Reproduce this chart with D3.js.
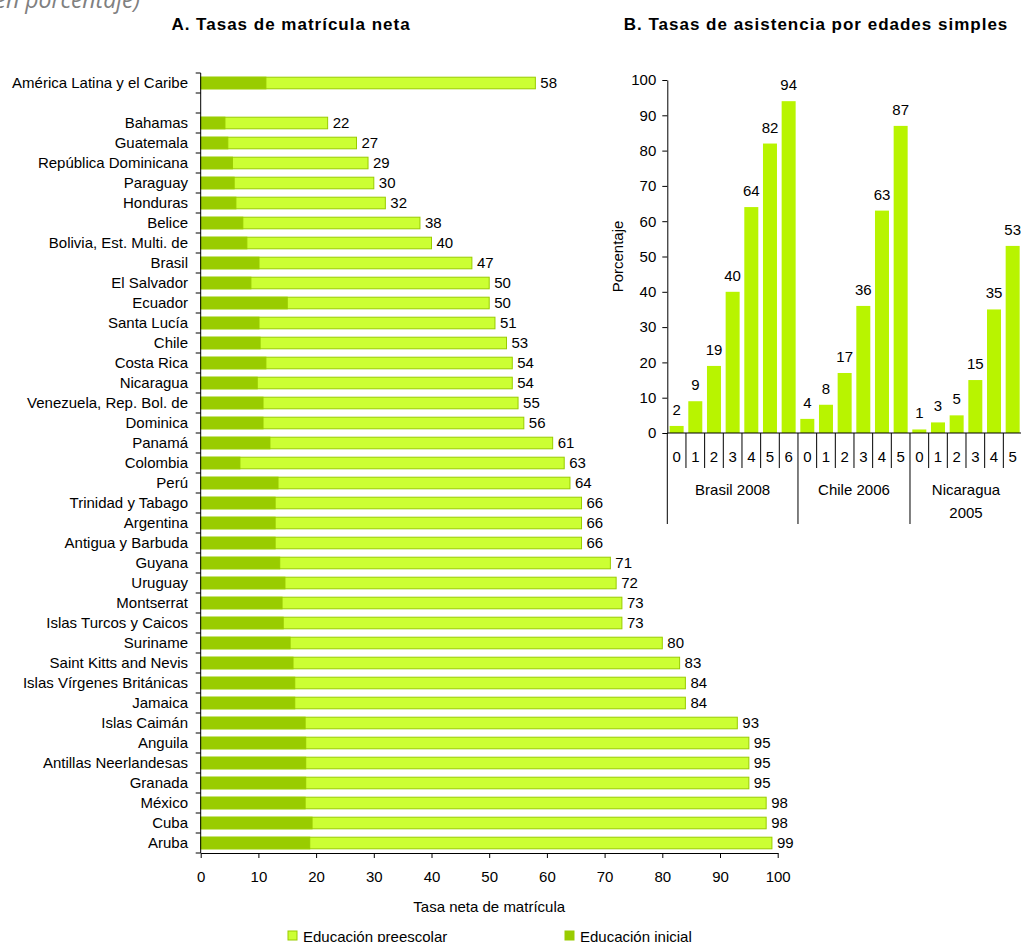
<!DOCTYPE html>
<html lang="es">
<head>
<meta charset="utf-8">
<script src="https://cdn.jsdelivr.net/npm/d3@7"></script>
<style>
  html, body { margin: 0; padding: 0; background: #fff; }
  svg { display: block; font-family: "Liberation Sans", Arial, sans-serif; }
</style>
</head>
<body>
<svg id="chart" width="1021" height="942"></svg>
<script>
// Panel A: net enrolment rates by country
const countries = [
  "América Latina y el Caribe", "",
  "Bahamas", "Guatemala", "República Dominicana", "Paraguay", "Honduras",
  "Belice", "Bolivia, Est. Multi. de", "Brasil", "El Salvador", "Ecuador",
  "Santa Lucía", "Chile", "Costa Rica", "Nicaragua", "Venezuela, Rep. Bol. de",
  "Dominica", "Panamá", "Colombia", "Perú", "Trinidad y Tabago", "Argentina",
  "Antigua y Barbuda", "Guyana", "Uruguay", "Montserrat", "Islas Turcos y Caicos",
  "Suriname", "Saint Kitts and Nevis", "Islas Vírgenes Británicas", "Jamaica",
  "Islas Caimán", "Anguila", "Antillas Neerlandesas", "Granada", "México",
  "Cuba", "Aruba"
];
// total net rate (label value)
const totalRate = [
  58, null,
  22, 27, 29, 30, 32, 38, 40, 47, 50, 50, 51, 53, 54, 54, 55, 56, 61, 63, 64,
  66, 66, 66, 71, 72, 73, 73, 80, 83, 84, 84, 93, 95, 95, 95, 98, 98, 99
];
// initial education share of the bar
const inicialRate = [
  11.3, null,
  4.2, 4.7, 5.5, 5.8, 6.1, 7.3, 8.0, 10.1, 8.7, 15.0, 10.1, 10.3, 11.3, 9.8,
  10.8, 10.8, 12.0, 6.8, 13.4, 12.9, 12.9, 12.9, 13.7, 14.6, 14.1, 14.3, 15.5,
  16.0, 16.3, 16.3, 18.1, 18.2, 18.2, 18.2, 18.1, 19.3, 18.9
];
const xTicksA = [0, 10, 20, 30, 40, 50, 60, 70, 80, 90, 100];

// Panel B: attendance by single age
const groups = ["Brasil 2008", "Chile 2006", "Nicaragua 2005"];
const ages = [
  ["0", "1", "2", "3", "4", "5", "6"],
  ["0", "1", "2", "3", "4", "5"],
  ["0", "1", "2", "3", "4", "5"]
];
const attendance = [
  [2, 9, 19, 40, 64, 82, 94],
  [4, 8, 17, 36, 63, 87],
  [1, 3, 5, 15, 35, 53]
];
const yTicksB = [0, 10, 20, 30, 40, 50, 60, 70, 80, 90, 100];

const svg = d3.select("#chart");
const FS = 15;

// ---------- header ----------
svg.append("text")
  .attr("x", 140).attr("y", 8)
  .attr("text-anchor", "end")
  .style("font-family", "'Open Sans', sans-serif")
  .style("font-style", "italic")
  .style("font-size", "23px")
  .attr("fill", "#808080")
  .text("(en porcentaje)");

svg.append("text")
  .attr("x", 291).attr("y", 30)
  .attr("text-anchor", "middle")
  .style("font-weight", "bold").style("font-size", "17px")
  .style("letter-spacing", "1px")
  .text("A. Tasas de matrícula neta");

svg.append("text")
  .attr("x", 816).attr("y", 30)
  .attr("text-anchor", "middle")
  .style("font-weight", "bold").style("font-size", "17px")
  .style("letter-spacing", "1px")
  .text("B. Tasas de asistencia por edades simples");

// ---------- panel A ----------
const slotKeys = countries.map((c, i) => i + "|" + c);
const x = d3.scaleLinear().domain([0, 100]).range([200.7, 777.7]);
const y = d3.scaleBand().domain(slotKeys).range([73, 853])
  .paddingInner(0.42).paddingOuter(0.21);

const gA = svg.append("g");
const rows = countries.map((c, i) => ({
  key: slotKeys[i], name: c, total: totalRate[i], inicial: inicialRate[i]
})).filter(d => d.total != null);

// full bar (pre-school part shown in light green)
gA.selectAll("rect.pre").data(rows).join("rect")
  .attr("class", "pre")
  .attr("x", x(0))
  .attr("y", d => y(d.key))
  .attr("width", d => x(d.total) - x(0))
  .attr("height", y.bandwidth())
  .attr("fill", "#ccff33")
  .attr("stroke", "#99cc00").attr("stroke-width", 1);

// initial education segment
gA.selectAll("rect.ini").data(rows).join("rect")
  .attr("class", "ini")
  .attr("x", x(0))
  .attr("y", d => y(d.key))
  .attr("width", d => x(d.inicial) - x(0))
  .attr("height", y.bandwidth())
  .attr("fill", "#99cc00")
  .attr("stroke", "#99cc00").attr("stroke-width", 1);

// value labels
gA.selectAll("text.val").data(rows).join("text")
  .attr("class", "val")
  .attr("x", d => x(d.total) + 5)
  .attr("y", d => y(d.key) + y.bandwidth() / 2)
  .attr("dy", "0.35em")
  .style("font-size", FS + "px")
  .text(d => d.total);

// category labels
gA.selectAll("text.cat").data(rows).join("text")
  .attr("class", "cat")
  .attr("x", 188)
  .attr("y", d => y(d.key) + y.bandwidth() / 2)
  .attr("dy", "0.35em")
  .attr("text-anchor", "end")
  .style("font-size", FS + "px")
  .text(d => d.name);

// vertical axis with ticks at slot boundaries
const bounds = d3.range(countries.length + 1).map(i => y.range()[0] + i * y.step());
gA.append("line")
  .attr("x1", x(0)).attr("x2", x(0))
  .attr("y1", y.range()[0]).attr("y2", y.range()[1])
  .attr("stroke", "#000");
gA.selectAll("line.yt").data(bounds).join("line")
  .attr("class", "yt")
  .attr("x1", x(0) - 5).attr("x2", x(0))
  .attr("y1", d => d).attr("y2", d => d)
  .attr("stroke", "#000");

// horizontal axis
const xAxis = gA.append("g")
  .attr("transform", `translate(0,${y.range()[1]})`)
  .call(d3.axisBottom(x).tickValues(xTicksA).tickSize(5).tickPadding(13).tickSizeOuter(0));
xAxis.select(".domain").attr("stroke", "#000");
xAxis.selectAll(".tick line").attr("stroke", "#000");
xAxis.selectAll("text").style("font-size", FS + "px")
  .style("font-family", "'Liberation Sans', Arial, sans-serif").attr("fill", "#000");

gA.append("text")
  .attr("x", x(50)).attr("y", 912)
  .attr("text-anchor", "middle")
  .style("font-size", FS + "px")
  .text("Tasa neta de matrícula");

// legend
const legend = [
  { label: "Educación preescolar", fill: "#ccff33", x: 288 },
  { label: "Educación inicial", fill: "#99cc00", x: 565 }
];
const lg = gA.selectAll("g.lg").data(legend).join("g")
  .attr("class", "lg")
  .attr("transform", d => `translate(${d.x},931)`);
lg.append("rect").attr("width", 9).attr("height", 9)
  .attr("fill", d => d.fill).attr("stroke", "#99cc00");
lg.append("text").attr("x", 15).attr("y", 10.5)
  .style("font-size", FS + "px").text(d => d.label);

// ---------- panel B ----------
const items = [];
groups.forEach((g, gi) => ages[gi].forEach((a, ai) => {
  items.push({ key: gi + "-" + a, group: gi, age: a, value: attendance[gi][ai] });
}));

const xb = d3.scaleBand().domain(items.map(d => d.key)).range([667.3, 1022])
  .paddingInner(0.25).paddingOuter(0.125);
const yb = d3.scaleLinear().domain([0, 100]).range([433, 80]);

const gB = svg.append("g");

gB.selectAll("rect.att").data(items).join("rect")
  .attr("class", "att")
  .attr("x", d => xb(d.key))
  .attr("y", d => yb(d.value))
  .attr("width", xb.bandwidth())
  .attr("height", d => yb(0) - yb(d.value))
  .attr("fill", "#b8f400");

gB.selectAll("text.bv").data(items).join("text")
  .attr("class", "bv")
  .attr("x", d => xb(d.key) + xb.bandwidth() / 2)
  .attr("y", d => yb(d.value) - 11)
  .attr("text-anchor", "middle")
  .style("font-size", FS + "px")
  .text(d => d.value);

// y axis
const yAxis = gB.append("g")
  .attr("transform", `translate(${xb.range()[0]},0)`)
  .call(d3.axisLeft(yb).tickValues(yTicksB).tickSize(5).tickPadding(6).tickSizeOuter(0));
yAxis.select(".domain").attr("stroke", "#000");
yAxis.selectAll(".tick line").attr("stroke", "#000");
yAxis.selectAll("text").style("font-size", FS + "px")
  .style("font-family", "'Liberation Sans', Arial, sans-serif").attr("fill", "#000");

gB.append("text")
  .attr("transform", `translate(623,${yb(50)}) rotate(-90)`)
  .attr("text-anchor", "middle")
  .style("font-size", FS + "px")
  .text("Porcentaje");

// baseline
gB.append("line")
  .attr("x1", xb.range()[0]).attr("x2", xb.range()[1])
  .attr("y1", yb(0)).attr("y2", yb(0)).attr("stroke", "#000");

// category separators: short between ages, long between groups
const step = xb.step();
const sepX = d3.range(items.length + 1).map(i => xb.range()[0] + i * step);
const groupStart = [];
let acc = 0;
ages.forEach(a => { groupStart.push(acc); acc += a.length; });
const longIdx = new Set([...groupStart, items.length]);
gB.selectAll("line.sep").data(sepX.slice(0, items.length)).join("line")
  .attr("class", "sep")
  .attr("x1", d => d).attr("x2", d => d)
  .attr("y1", yb(0))
  .attr("y2", (d, i) => longIdx.has(i) ? 524 : 468)
  .attr("stroke", "#000");

gB.selectAll("text.age").data(items).join("text")
  .attr("class", "age")
  .attr("x", d => xb(d.key) + xb.bandwidth() / 2)
  .attr("y", 457).attr("dy", "0.35em")
  .attr("text-anchor", "middle")
  .style("font-size", FS + "px")
  .text(d => d.age);

const groupLines = [["Brasil 2008"], ["Chile 2006"], ["Nicaragua", "2005"]];
groups.forEach((g, gi) => {
  const x0 = sepX[groupStart[gi]];
  const x1 = sepX[groupStart[gi] + ages[gi].length];
  const t = gB.append("text")
    .attr("x", (x0 + x1) / 2).attr("y", 490)
    .attr("text-anchor", "middle")
    .style("font-size", FS + "px");
  groupLines[gi].forEach((line, li) => {
    t.append("tspan").attr("x", (x0 + x1) / 2).attr("dy", li === 0 ? "0.35em" : "1.5em").text(line);
  });
});
</script>
</body>
</html>
